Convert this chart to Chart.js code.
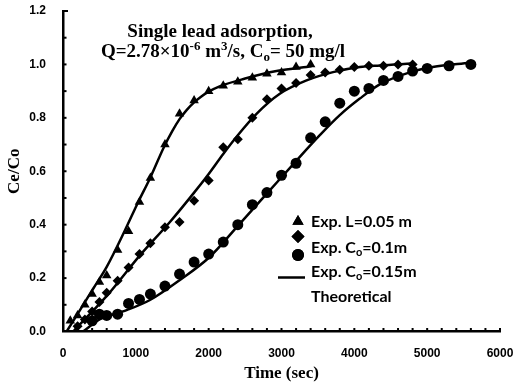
<!DOCTYPE html>
<html>
<head>
  <title>Single lead adsorption</title>
  <script src="https://cdn.jsdelivr.net/npm/chart.js"></script>
  <style>
    html, body { margin: 0; padding: 0; background: #fff; }
    #wrap { width: 520px; height: 388px; }
  </style>
</head>
<body>
  <div id="wrap"><canvas id="myChart"></canvas></div>
  <script>
    // experimental points, L = 0.05 m (triangles)
    const timeL = [100, 200, 300, 400, 500, 600, 750, 900, 1050, 1200, 1400, 1600, 1800, 2000, 2200, 2400, 2600, 2800, 3000, 3200, 3400];
    const expL = [0.04, 0.06, 0.10, 0.14, 0.185, 0.21, 0.305, 0.375, 0.485, 0.575, 0.70, 0.815, 0.865, 0.90, 0.92, 0.935, 0.95, 0.965, 0.97, 0.99, 1.0];

    // experimental points, Co = 0.1 m (diamonds)
    const timeC1 = [200, 300, 400, 500, 600, 750, 900, 1050, 1200, 1400, 1600, 1800, 2000, 2200, 2400, 2600, 2800, 3000, 3200, 3400, 3600, 3800, 4000, 4200, 4400, 4600, 4800];
    const expC1 = [0.02, 0.045, 0.075, 0.11, 0.145, 0.19, 0.24, 0.29, 0.33, 0.39, 0.41, 0.49, 0.565, 0.69, 0.72, 0.80, 0.87, 0.91, 0.93, 0.96, 0.97, 0.98, 0.99, 0.995, 0.995, 1.0, 1.0];

    // experimental points, Co = 0.15 m (circles)
    const timeC2 = [400, 500, 600, 750, 900, 1050, 1200, 1400, 1600, 1800, 2000, 2200, 2400, 2600, 2800, 3000, 3200, 3400, 3600, 3800, 4000, 4200, 4400, 4600, 4800, 5000, 5300, 5600];
    const expC2 = [0.04, 0.065, 0.06, 0.065, 0.105, 0.12, 0.14, 0.17, 0.215, 0.26, 0.29, 0.335, 0.40, 0.475, 0.52, 0.585, 0.63, 0.725, 0.785, 0.855, 0.90, 0.91, 0.94, 0.955, 0.975, 0.985, 0.995, 1.0];

    // theoretical curves
    const thTimeL = [50, 233, 416, 600, 851, 1033, 1193, 1385, 1500, 1600, 1700, 1800, 1900, 2000, 2150, 2500, 2932, 3412];
    const thL = [0, 0.08, 0.161, 0.242, 0.379, 0.485, 0.573, 0.69, 0.75, 0.795, 0.83, 0.858, 0.88, 0.898, 0.918, 0.947, 0.975, 0.993];

    const thTimeC1 = [141, 622, 1056, 1468, 1800, 2000, 2200, 2400, 2657, 2977, 3344, 3708, 4075, 4349, 4784];
    const thC1 = [0, 0.14, 0.285, 0.41, 0.52, 0.59, 0.665, 0.735, 0.815, 0.89, 0.94, 0.971, 0.99, 0.996, 1.003];

    const thTimeC2 = [275, 508, 874, 1194, 1605, 2017, 2383, 2795, 3206, 3526, 3800, 4075, 4349, 4761, 5076, 5584];
    const thC2 = [0, 0.046, 0.080, 0.118, 0.193, 0.280, 0.39, 0.515, 0.64, 0.735, 0.81, 0.872, 0.925, 0.97, 0.99, 1.006];

    const xMax = 6000;
    const yMax = 1.2;

    function pts(xs, ys) {
      return xs.map((x, i) => ({ x: x, y: ys[i] }));
    }

    // draws text made of pieces, some raised or lowered
    function richText(ctx, parts, x, y, size, family, align) {
      const small = Math.round(size * 0.66);
      let total = 0;
      parts.forEach(p => {
        ctx.font = 'bold ' + (p.sup || p.sub ? small : size) + 'px ' + family;
        total += ctx.measureText(p.t).width;
      });
      let cx = align === 'center' ? x - total / 2 : x;
      ctx.textAlign = 'left';
      ctx.textBaseline = 'alphabetic';
      parts.forEach(p => {
        const s = p.sup || p.sub ? small : size;
        ctx.font = 'bold ' + s + 'px ' + family;
        let dy = 0;
        if (p.sup) dy = -size * 0.38;
        if (p.sub) dy = size * 0.2;
        ctx.fillText(p.t, cx, y + dy);
        cx += ctx.measureText(p.t).width;
      });
    }

    const titleLine1 = [{ t: 'Single lead adsorption,' }];
    const titleLine2 = [
      { t: 'Q=2.78\u00d710' }, { t: '-6', sup: true }, { t: ' m' }, { t: '3', sup: true },
      { t: '/s, C' }, { t: 'o', sub: true }, { t: '= 50 mg/l' }
    ];
    const legendLabels = [
      [{ t: 'Exp. L=0.05 m' }],
      [{ t: 'Exp. C' }, { t: 'o', sub: true }, { t: '=0.1m' }],
      [{ t: 'Exp. C' }, { t: 'o', sub: true }, { t: '=0.15m' }],
      [{ t: 'Theoretical' }]
    ];

    const serif = '"Liberation Serif", "Times New Roman", serif';
    const sans = '"Liberation Sans", Arial, sans-serif';

    const decor = {
      id: 'decor',
      afterDraw(chart) {
        const ctx = chart.ctx;
        const xs = chart.scales.x, ys = chart.scales.y;
        ctx.save();
        ctx.strokeStyle = '#000';
        ctx.lineWidth = 2;
        // inward tick marks
        for (let v = 200; v <= xMax; v += 200) {
          const px = xs.getPixelForValue(v);
          ctx.beginPath();
          ctx.moveTo(px, ys.bottom);
          ctx.lineTo(px, ys.bottom - 3.5);
          ctx.stroke();
        }
        for (let k = 1; k <= 12; k++) {
          const py = ys.getPixelForValue(k / 10);
          ctx.beginPath();
          ctx.moveTo(xs.left, py);
          ctx.lineTo(xs.left + (k === 12 ? 5 : 3.5), py);
          ctx.stroke();
        }

        // title
        ctx.fillStyle = '#000';
        richText(ctx, titleLine1, 220, 37, 19, serif, 'center');
        richText(ctx, titleLine2, 223, 57, 19, serif, 'center');

        // legend
        const lx = 298, tx = 311;
        const marks = [['triangle', 221.5], ['rectRot', 236.5], ['circle', 255]];
        marks.forEach(m => {
          Chart.helpers.drawPoint(ctx, { pointStyle: m[0], radius: m[0] === 'circle' ? 6 : 6.5, borderWidth: 0 }, lx, m[1]);
          ctx.fill();
        });
        ctx.lineWidth = 2.5;
        ctx.beginPath();
        ctx.moveTo(278, 277.5);
        ctx.lineTo(305, 277.5);
        ctx.stroke();
        const rows = [227, 252.5, 276.5, 302];
        legendLabels.forEach((parts, i) => {
          richText(ctx, parts, tx, rows[i], 16, 'Lato, "Open Sans", sans-serif', 'left');
        });
        ctx.restore();
      }
    };

    const pointSet = (label, xs, ys, style, r) => ({
      label: label,
      data: pts(xs, ys),
      pointStyle: style,
      pointRadius: r,
      pointHoverRadius: r,
      pointBackgroundColor: '#000',
      pointBorderColor: '#000',
      pointBorderWidth: 0,
      showLine: false
    });

    const lineSet = (label, xs, ys) => ({
      label: label,
      data: pts(xs, ys),
      showLine: true,
      borderColor: '#000',
      borderWidth: 2.5,
      pointRadius: 0,
      cubicInterpolationMode: 'monotone'
    });

    const ctx = document.getElementById('myChart').getContext('2d');
    new Chart(ctx, {
      type: 'scatter',
      data: {
        datasets: [
          lineSet('Theoretical L', thTimeL, thL),
          lineSet('Theoretical C1', thTimeC1, thC1),
          lineSet('Theoretical C2', thTimeC2, thC2),
          pointSet('Exp. L=0.05 m', timeL, expL, 'triangle', 5.5),
          pointSet('Exp. Co=0.1m', timeC1, expC1, 'rectRot', 5),
          pointSet('Exp. Co=0.15m', timeC2, expC2, 'circle', 5.5)
        ]
      },
      options: {
        responsive: true,
        maintainAspectRatio: false,
        animation: false,
        layout: { padding: { top: 11, right: 20, left: 0, bottom: 0 } },
        plugins: {
          legend: { display: false },
          tooltip: { enabled: false }
        },
        scales: {
          x: {
            type: 'linear',
            min: 0,
            max: xMax,
            afterFit: s => { s.height = 56.5; s.paddingLeft = 0; s.paddingRight = 0; },
            grid: { display: false },
            border: { display: true, color: '#000', width: 2.5 },
            ticks: {
              stepSize: 1000,
              padding: 7,
              color: '#000',
              maxRotation: 0,
              callback: v => String(v),
              font: { family: sans, size: 12, weight: 'bold' }
            },
            title: {
              display: true,
              text: 'Time (sec)',
              color: '#000',
              padding: { top: 5 },
              font: { family: serif, size: 17, weight: 'bold' }
            }
          },
          y: {
            min: 0,
            max: yMax,
            afterFit: s => { s.width = 63; s.paddingTop = 0; s.paddingBottom = 0; },
            grid: { display: false },
            border: { display: true, color: '#000', width: 2.5 },
            ticks: {
              stepSize: 0.2,
              padding: 9,
              color: '#000',
              callback: v => v.toFixed(1),
              font: { family: sans, size: 12, weight: 'bold' }
            },
            title: {
              display: true,
              text: 'Ce/Co',
              color: '#000',
              padding: { bottom: 0 },
              font: { family: serif, size: 17, weight: 'bold' }
            }
          }
        }
      },
      plugins: [decor]
    });
  </script>
</body>
</html>
